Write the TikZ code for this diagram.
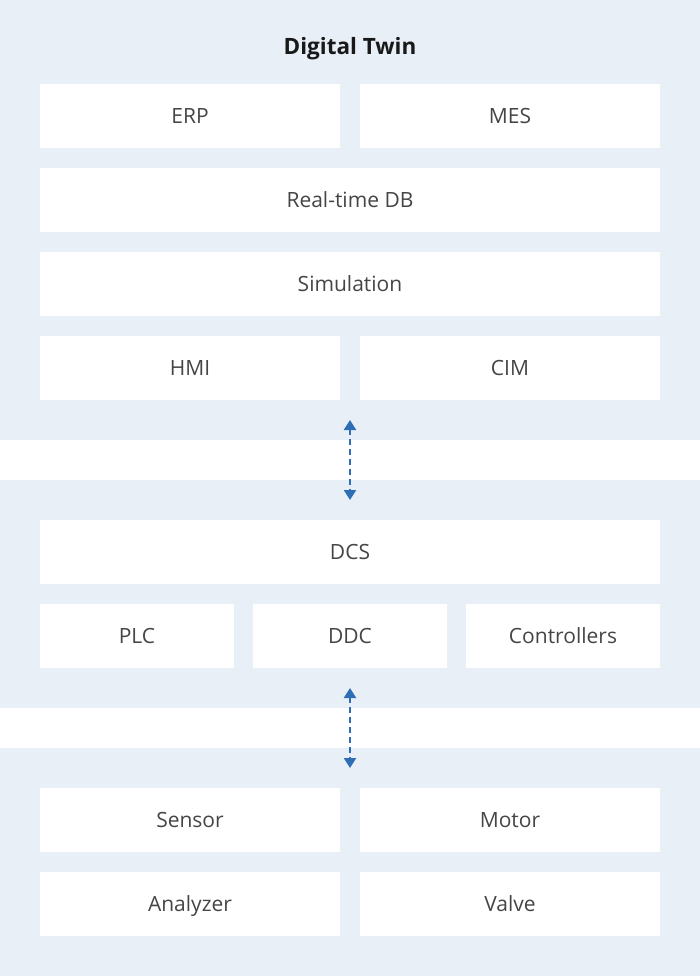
\documentclass[tikz,border=0pt]{standalone}
\usepackage{fontspec}
\setmainfont{Open Sans}
\usetikzlibrary{arrows.meta}
\definecolor{panelbg}{HTML}{E8EFF7}
\definecolor{labelgray}{HTML}{454545}
\definecolor{linkblue}{HTML}{2F6DB5}
\begin{document}
\begin{tikzpicture}[x=1pt,y=-1pt,
  cell/.style={fill=white,draw=none,minimum height=64pt,inner sep=0pt,
    text height=15pt,text depth=0pt,
    text=labelgray,font=\fontsize{21}{25}\selectfont},
  wide/.style={cell,minimum width=620pt},
  half/.style={cell,minimum width=300pt},
  third/.style={cell,minimum width=194pt},
  link/.style={linkblue,line width=2.2pt,dash pattern=on 6pt off 4pt,
    {Triangle[width=12pt,length=10pt]}-{Triangle[width=12pt,length=10pt]}}]
\useasboundingbox (0,0) rectangle (700,976);
% panels
\fill[panelbg] (0,0) rectangle (700,440);
\fill[panelbg] (0,480) rectangle (700,708);
\fill[panelbg] (0,748) rectangle (700,976);
\node[font=\fontsize{22.5}{26}\selectfont\bfseries,text=black!90,
  text height=15pt,text depth=0pt] (title) at (350,47) {Digital Twin};
% digital twin layer
\node[half] (erp) at (190,116) {ERP};
\node[half] (mes) at (510,116) {MES};
\node[wide] (rtdb) at (350,200) {Real-time DB};
\node[wide] (sim) at (350,284) {Simulation};
\node[half] (hmi) at (190,368) {HMI};
\node[half] (cim) at (510,368) {CIM};
% control layer
\node[wide] (dcs) at (350,552) {DCS};
\node[third] (plc) at (137,636) {PLC};
\node[third] (ddc) at (350,636) {DDC};
\node[third] (ctrl) at (563,636) {Controllers};
% field layer
\node[half] (sensor) at (190,820) {Sensor};
\node[half] (motor) at (510,820) {Motor};
\node[half] (analyzer) at (190,904) {Analyzer};
\node[half] (valve) at (510,904) {Valve};
% links between layers
\coordinate (up1) at (350,420);
\coordinate (dn1) at (350,500);
\coordinate (up2) at (350,688);
\coordinate (dn2) at (350,768);
\draw[link] (up1) -- (dn1);
\draw[link] (up2) -- (dn2);
\end{tikzpicture}
\end{document}
